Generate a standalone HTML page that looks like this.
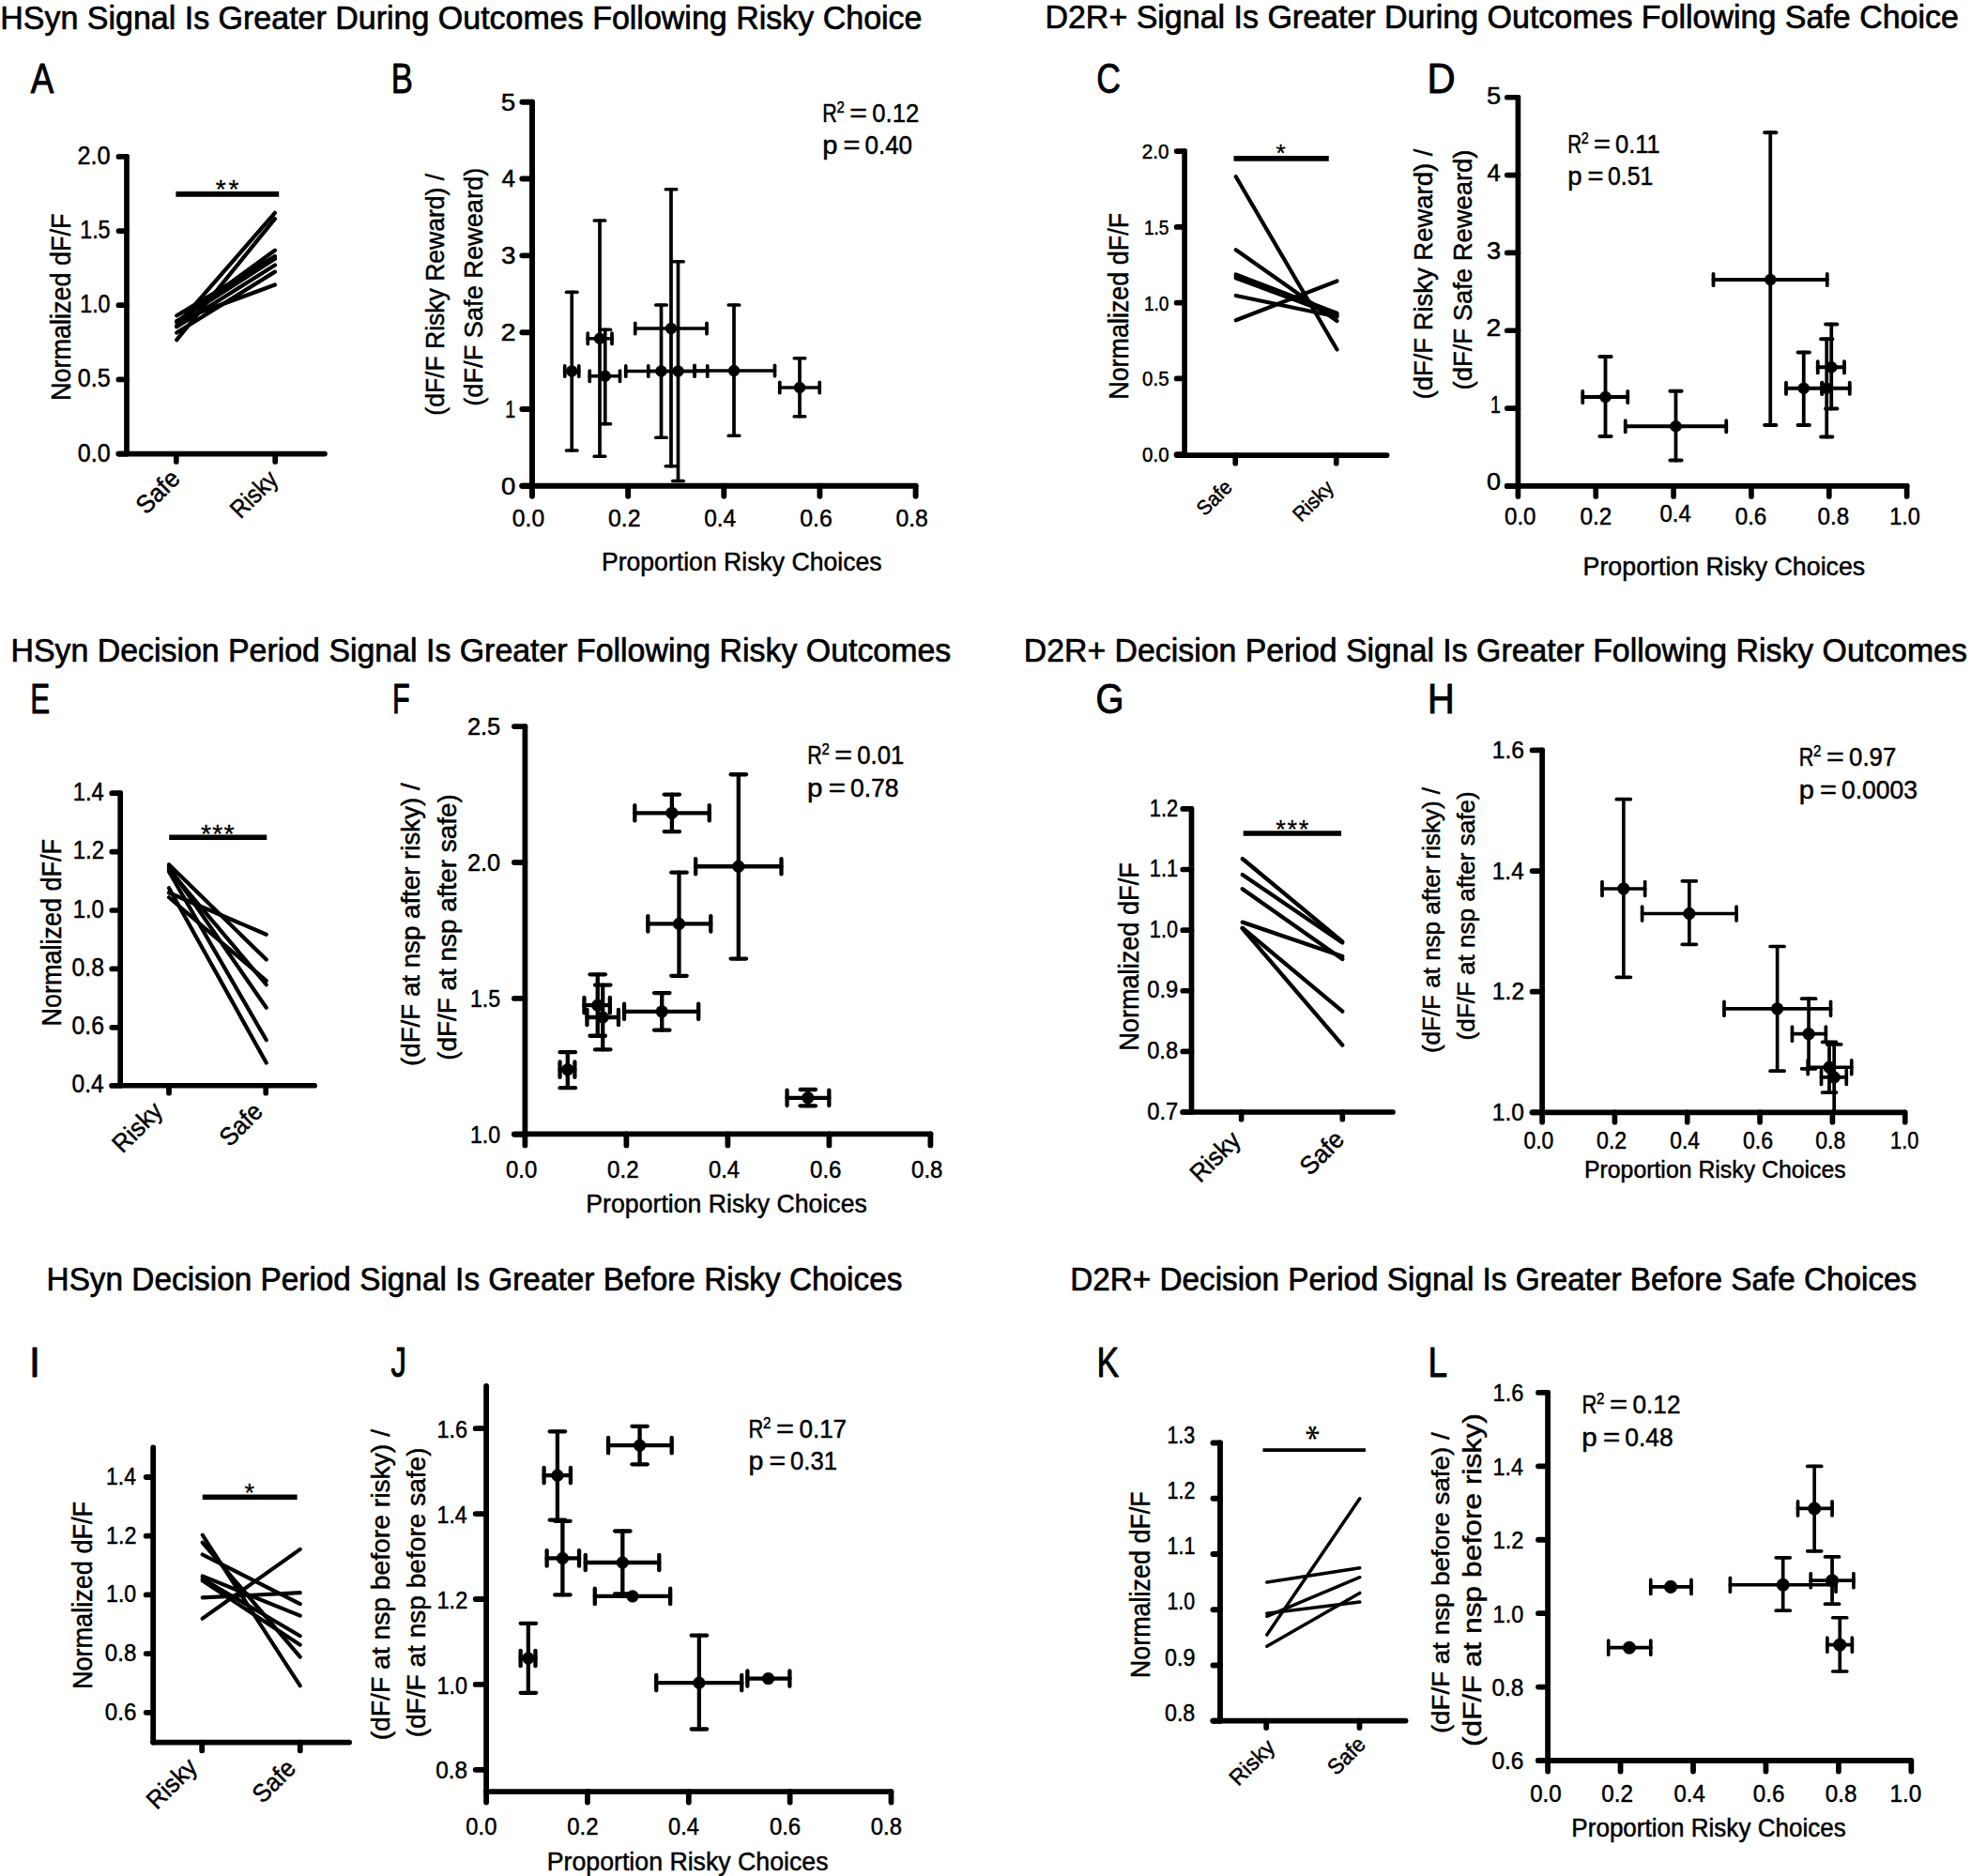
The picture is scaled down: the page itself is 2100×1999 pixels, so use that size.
<!DOCTYPE html>
<html lang="en"><head><meta charset="utf-8"><title>Figure</title>
<style>html,body{margin:0;padding:0;background:#fff}body{width:2100px;height:1999px;overflow:hidden}</style>
</head><body>
<svg width="2100" height="1999" viewBox="0 0 2100 1999" font-family='"Liberation Sans", sans-serif' fill="#000" stroke="#000" style="display:block">
<g fill="none">
<line x1="135" y1="166.9" x2="135" y2="483.6" stroke-width="5.7" stroke-linecap="round"/>
<line x1="126.45" y1="483.6" x2="345.95" y2="483.6" stroke-width="5.7" stroke-linecap="round"/>
<line x1="126.45" y1="166.9" x2="135" y2="166.9" stroke-width="5.7" stroke-linecap="round"/>
<line x1="126.45" y1="246.1" x2="135" y2="246.1" stroke-width="5.7" stroke-linecap="round"/>
<line x1="126.45" y1="325.2" x2="135" y2="325.2" stroke-width="5.7" stroke-linecap="round"/>
<line x1="126.45" y1="404.4" x2="135" y2="404.4" stroke-width="5.7" stroke-linecap="round"/>
<line x1="126.45" y1="483.6" x2="135" y2="483.6" stroke-width="5.7" stroke-linecap="round"/>
<line x1="187.8" y1="483.6" x2="187.8" y2="491.95" stroke-width="5.7" stroke-linecap="round"/>
<line x1="293.2" y1="483.6" x2="293.2" y2="491.95" stroke-width="5.7" stroke-linecap="round"/>
<line x1="187.4" y1="206.8" x2="297.2" y2="206.8" stroke-width="5.7" stroke-linecap="butt"/>
<line x1="188.3" y1="346.8" x2="292.9" y2="226.9" stroke-width="4.3" stroke-linecap="round"/>
<line x1="188.3" y1="362.2" x2="292.9" y2="233.1" stroke-width="4.3" stroke-linecap="round"/>
<line x1="188.3" y1="336.3" x2="292.9" y2="273.1" stroke-width="4.3" stroke-linecap="round"/>
<line x1="188.3" y1="343" x2="292.9" y2="266.7" stroke-width="4.3" stroke-linecap="round"/>
<line x1="188.3" y1="343" x2="292.9" y2="275.8" stroke-width="4.3" stroke-linecap="round"/>
<line x1="188.3" y1="348.3" x2="292.9" y2="282.5" stroke-width="4.3" stroke-linecap="round"/>
<line x1="188.3" y1="354.5" x2="292.9" y2="289.7" stroke-width="4.3" stroke-linecap="round"/>
<line x1="188.3" y1="342.1" x2="292.9" y2="303.5" stroke-width="4.3" stroke-linecap="round"/>
<line x1="567" y1="108.75" x2="567" y2="517.8" stroke-width="5.9" stroke-linecap="round"/>
<line x1="556.35" y1="517.8" x2="975.55" y2="517.8" stroke-width="5.9" stroke-linecap="round"/>
<line x1="556.35" y1="108.75" x2="567" y2="108.75" stroke-width="5.9" stroke-linecap="round"/>
<line x1="556.35" y1="190.56" x2="567" y2="190.56" stroke-width="5.9" stroke-linecap="round"/>
<line x1="556.35" y1="272.37" x2="567" y2="272.37" stroke-width="5.9" stroke-linecap="round"/>
<line x1="556.35" y1="354.18" x2="567" y2="354.18" stroke-width="5.9" stroke-linecap="round"/>
<line x1="556.35" y1="435.99" x2="567" y2="435.99" stroke-width="5.9" stroke-linecap="round"/>
<line x1="556.35" y1="517.8" x2="567" y2="517.8" stroke-width="5.9" stroke-linecap="round"/>
<line x1="567" y1="517.8" x2="567" y2="528.75" stroke-width="5.9" stroke-linecap="round"/>
<line x1="669.15" y1="517.8" x2="669.15" y2="528.75" stroke-width="5.9" stroke-linecap="round"/>
<line x1="771.3" y1="517.8" x2="771.3" y2="528.75" stroke-width="5.9" stroke-linecap="round"/>
<line x1="873.45" y1="517.8" x2="873.45" y2="528.75" stroke-width="5.9" stroke-linecap="round"/>
<line x1="975.6" y1="517.8" x2="975.6" y2="528.75" stroke-width="5.9" stroke-linecap="round"/>
<line x1="601.75" y1="395.5" x2="616.75" y2="395.5" stroke-width="3.7" stroke-linecap="round"/>
<line x1="601.75" y1="389.8" x2="601.75" y2="401.2" stroke-width="3.7" stroke-linecap="round"/>
<line x1="616.75" y1="389.8" x2="616.75" y2="401.2" stroke-width="3.7" stroke-linecap="round"/>
<line x1="609.25" y1="311.25" x2="609.25" y2="480" stroke-width="3.7" stroke-linecap="round"/>
<line x1="603.55" y1="311.25" x2="614.95" y2="311.25" stroke-width="3.7" stroke-linecap="round"/>
<line x1="603.55" y1="480" x2="614.95" y2="480" stroke-width="3.7" stroke-linecap="round"/>
<line x1="626.25" y1="360.75" x2="652" y2="360.75" stroke-width="3.7" stroke-linecap="round"/>
<line x1="626.25" y1="355.05" x2="626.25" y2="366.45" stroke-width="3.7" stroke-linecap="round"/>
<line x1="652" y1="355.05" x2="652" y2="366.45" stroke-width="3.7" stroke-linecap="round"/>
<line x1="639" y1="235" x2="639" y2="486.25" stroke-width="3.7" stroke-linecap="round"/>
<line x1="633.3" y1="235" x2="644.7" y2="235" stroke-width="3.7" stroke-linecap="round"/>
<line x1="633.3" y1="486.25" x2="644.7" y2="486.25" stroke-width="3.7" stroke-linecap="round"/>
<line x1="628.25" y1="400.75" x2="660.5" y2="400.75" stroke-width="3.7" stroke-linecap="round"/>
<line x1="628.25" y1="395.05" x2="628.25" y2="406.45" stroke-width="3.7" stroke-linecap="round"/>
<line x1="660.5" y1="395.05" x2="660.5" y2="406.45" stroke-width="3.7" stroke-linecap="round"/>
<line x1="644.75" y1="351.25" x2="644.75" y2="451.75" stroke-width="3.7" stroke-linecap="round"/>
<line x1="639.05" y1="351.25" x2="650.45" y2="351.25" stroke-width="3.7" stroke-linecap="round"/>
<line x1="639.05" y1="451.75" x2="650.45" y2="451.75" stroke-width="3.7" stroke-linecap="round"/>
<line x1="666.75" y1="395.5" x2="740" y2="395.5" stroke-width="3.7" stroke-linecap="round"/>
<line x1="666.75" y1="389.8" x2="666.75" y2="401.2" stroke-width="3.7" stroke-linecap="round"/>
<line x1="740" y1="389.8" x2="740" y2="401.2" stroke-width="3.7" stroke-linecap="round"/>
<line x1="704.5" y1="325" x2="704.5" y2="466.25" stroke-width="3.7" stroke-linecap="round"/>
<line x1="698.8" y1="325" x2="710.2" y2="325" stroke-width="3.7" stroke-linecap="round"/>
<line x1="698.8" y1="466.25" x2="710.2" y2="466.25" stroke-width="3.7" stroke-linecap="round"/>
<line x1="676.75" y1="350" x2="753" y2="350" stroke-width="3.7" stroke-linecap="round"/>
<line x1="676.75" y1="344.3" x2="676.75" y2="355.7" stroke-width="3.7" stroke-linecap="round"/>
<line x1="753" y1="344.3" x2="753" y2="355.7" stroke-width="3.7" stroke-linecap="round"/>
<line x1="715" y1="201.75" x2="715" y2="496.75" stroke-width="3.7" stroke-linecap="round"/>
<line x1="709.3" y1="201.75" x2="720.7" y2="201.75" stroke-width="3.7" stroke-linecap="round"/>
<line x1="709.3" y1="496.75" x2="720.7" y2="496.75" stroke-width="3.7" stroke-linecap="round"/>
<line x1="690.75" y1="395.5" x2="753.75" y2="395.5" stroke-width="3.7" stroke-linecap="round"/>
<line x1="690.75" y1="389.8" x2="690.75" y2="401.2" stroke-width="3.7" stroke-linecap="round"/>
<line x1="753.75" y1="389.8" x2="753.75" y2="401.2" stroke-width="3.7" stroke-linecap="round"/>
<line x1="722.5" y1="278.75" x2="722.5" y2="512.5" stroke-width="3.7" stroke-linecap="round"/>
<line x1="716.8" y1="278.75" x2="728.2" y2="278.75" stroke-width="3.7" stroke-linecap="round"/>
<line x1="716.8" y1="512.5" x2="728.2" y2="512.5" stroke-width="3.7" stroke-linecap="round"/>
<line x1="740" y1="395" x2="825.5" y2="395" stroke-width="3.7" stroke-linecap="round"/>
<line x1="740" y1="389.3" x2="740" y2="400.7" stroke-width="3.7" stroke-linecap="round"/>
<line x1="825.5" y1="389.3" x2="825.5" y2="400.7" stroke-width="3.7" stroke-linecap="round"/>
<line x1="782" y1="325" x2="782" y2="464.25" stroke-width="3.7" stroke-linecap="round"/>
<line x1="776.3" y1="325" x2="787.7" y2="325" stroke-width="3.7" stroke-linecap="round"/>
<line x1="776.3" y1="464.25" x2="787.7" y2="464.25" stroke-width="3.7" stroke-linecap="round"/>
<line x1="830.75" y1="413" x2="873.25" y2="413" stroke-width="3.7" stroke-linecap="round"/>
<line x1="830.75" y1="407.3" x2="830.75" y2="418.7" stroke-width="3.7" stroke-linecap="round"/>
<line x1="873.25" y1="407.3" x2="873.25" y2="418.7" stroke-width="3.7" stroke-linecap="round"/>
<line x1="852" y1="381.75" x2="852" y2="443.75" stroke-width="3.7" stroke-linecap="round"/>
<line x1="846.3" y1="381.75" x2="857.7" y2="381.75" stroke-width="3.7" stroke-linecap="round"/>
<line x1="846.3" y1="443.75" x2="857.7" y2="443.75" stroke-width="3.7" stroke-linecap="round"/>
<line x1="1262.1" y1="161.1" x2="1262.1" y2="485.1" stroke-width="5.7" stroke-linecap="round"/>
<line x1="1253.65" y1="485.1" x2="1477.65" y2="485.1" stroke-width="5.7" stroke-linecap="round"/>
<line x1="1253.65" y1="161.1" x2="1262.1" y2="161.1" stroke-width="5.7" stroke-linecap="round"/>
<line x1="1253.65" y1="241.88" x2="1262.1" y2="241.88" stroke-width="5.7" stroke-linecap="round"/>
<line x1="1253.65" y1="322.66" x2="1262.1" y2="322.66" stroke-width="5.7" stroke-linecap="round"/>
<line x1="1253.65" y1="403.44" x2="1262.1" y2="403.44" stroke-width="5.7" stroke-linecap="round"/>
<line x1="1253.65" y1="484.22" x2="1262.1" y2="484.22" stroke-width="5.7" stroke-linecap="round"/>
<line x1="1316.25" y1="485.1" x2="1316.25" y2="493.65" stroke-width="5.7" stroke-linecap="round"/>
<line x1="1423.75" y1="485.1" x2="1423.75" y2="493.65" stroke-width="5.7" stroke-linecap="round"/>
<line x1="1314.5" y1="168.8" x2="1415.75" y2="168.8" stroke-width="5.7" stroke-linecap="butt"/>
<line x1="1316.75" y1="188.25" x2="1424.5" y2="372.5" stroke-width="4.2" stroke-linecap="round"/>
<line x1="1316.75" y1="266.25" x2="1424.5" y2="342" stroke-width="4.2" stroke-linecap="round"/>
<line x1="1316.75" y1="292.5" x2="1424.5" y2="333.75" stroke-width="4.2" stroke-linecap="round"/>
<line x1="1316.75" y1="296.25" x2="1424.5" y2="336.25" stroke-width="4.2" stroke-linecap="round"/>
<line x1="1316.75" y1="294.5" x2="1424.5" y2="335" stroke-width="4.2" stroke-linecap="round"/>
<line x1="1316.75" y1="315" x2="1424.5" y2="337.5" stroke-width="4.2" stroke-linecap="round"/>
<line x1="1316.75" y1="341.25" x2="1424.5" y2="299.5" stroke-width="4.2" stroke-linecap="round"/>
<line x1="1617.4" y1="103.75" x2="1617.4" y2="517.9" stroke-width="5.7" stroke-linecap="round"/>
<line x1="1605.75" y1="517.9" x2="2031.65" y2="517.9" stroke-width="5.7" stroke-linecap="round"/>
<line x1="1605.75" y1="103.75" x2="1617.4" y2="103.75" stroke-width="5.7" stroke-linecap="round"/>
<line x1="1605.75" y1="186.58" x2="1617.4" y2="186.58" stroke-width="5.7" stroke-linecap="round"/>
<line x1="1605.75" y1="269.41" x2="1617.4" y2="269.41" stroke-width="5.7" stroke-linecap="round"/>
<line x1="1605.75" y1="352.24" x2="1617.4" y2="352.24" stroke-width="5.7" stroke-linecap="round"/>
<line x1="1605.75" y1="435.07" x2="1617.4" y2="435.07" stroke-width="5.7" stroke-linecap="round"/>
<line x1="1605.75" y1="517.9" x2="1617.4" y2="517.9" stroke-width="5.7" stroke-linecap="round"/>
<line x1="1617.4" y1="517.9" x2="1617.4" y2="528.95" stroke-width="5.7" stroke-linecap="round"/>
<line x1="1700.25" y1="517.9" x2="1700.25" y2="528.95" stroke-width="5.7" stroke-linecap="round"/>
<line x1="1783.1" y1="517.9" x2="1783.1" y2="528.95" stroke-width="5.7" stroke-linecap="round"/>
<line x1="1865.95" y1="517.9" x2="1865.95" y2="528.95" stroke-width="5.7" stroke-linecap="round"/>
<line x1="1948.8" y1="517.9" x2="1948.8" y2="528.95" stroke-width="5.7" stroke-linecap="round"/>
<line x1="2031.65" y1="517.9" x2="2031.65" y2="528.95" stroke-width="5.7" stroke-linecap="round"/>
<line x1="1686.25" y1="423" x2="1734.25" y2="423" stroke-width="3.8" stroke-linecap="round"/>
<line x1="1686.25" y1="416.8" x2="1686.25" y2="429.2" stroke-width="3.8" stroke-linecap="round"/>
<line x1="1734.25" y1="416.8" x2="1734.25" y2="429.2" stroke-width="3.8" stroke-linecap="round"/>
<line x1="1710.5" y1="380" x2="1710.5" y2="465" stroke-width="3.8" stroke-linecap="round"/>
<line x1="1704.3" y1="380" x2="1716.7" y2="380" stroke-width="3.8" stroke-linecap="round"/>
<line x1="1704.3" y1="465" x2="1716.7" y2="465" stroke-width="3.8" stroke-linecap="round"/>
<line x1="1731.75" y1="454.25" x2="1839.25" y2="454.25" stroke-width="3.8" stroke-linecap="round"/>
<line x1="1731.75" y1="448.05" x2="1731.75" y2="460.45" stroke-width="3.8" stroke-linecap="round"/>
<line x1="1839.25" y1="448.05" x2="1839.25" y2="460.45" stroke-width="3.8" stroke-linecap="round"/>
<line x1="1785.5" y1="416.75" x2="1785.5" y2="490.5" stroke-width="3.8" stroke-linecap="round"/>
<line x1="1779.3" y1="416.75" x2="1791.7" y2="416.75" stroke-width="3.8" stroke-linecap="round"/>
<line x1="1779.3" y1="490.5" x2="1791.7" y2="490.5" stroke-width="3.8" stroke-linecap="round"/>
<line x1="1825.5" y1="298" x2="1946.75" y2="298" stroke-width="3.8" stroke-linecap="round"/>
<line x1="1825.5" y1="291.8" x2="1825.5" y2="304.2" stroke-width="3.8" stroke-linecap="round"/>
<line x1="1946.75" y1="291.8" x2="1946.75" y2="304.2" stroke-width="3.8" stroke-linecap="round"/>
<line x1="1886.25" y1="141.25" x2="1886.25" y2="453" stroke-width="3.8" stroke-linecap="round"/>
<line x1="1880.05" y1="141.25" x2="1892.45" y2="141.25" stroke-width="3.8" stroke-linecap="round"/>
<line x1="1880.05" y1="453" x2="1892.45" y2="453" stroke-width="3.8" stroke-linecap="round"/>
<line x1="1903" y1="413.75" x2="1941.25" y2="413.75" stroke-width="3.8" stroke-linecap="round"/>
<line x1="1903" y1="407.55" x2="1903" y2="419.95" stroke-width="3.8" stroke-linecap="round"/>
<line x1="1941.25" y1="407.55" x2="1941.25" y2="419.95" stroke-width="3.8" stroke-linecap="round"/>
<line x1="1921.75" y1="375.5" x2="1921.75" y2="453" stroke-width="3.8" stroke-linecap="round"/>
<line x1="1915.55" y1="375.5" x2="1927.95" y2="375.5" stroke-width="3.8" stroke-linecap="round"/>
<line x1="1915.55" y1="453" x2="1927.95" y2="453" stroke-width="3.8" stroke-linecap="round"/>
<line x1="1941.25" y1="413.75" x2="1970.75" y2="413.75" stroke-width="3.8" stroke-linecap="round"/>
<line x1="1941.25" y1="407.55" x2="1941.25" y2="419.95" stroke-width="3.8" stroke-linecap="round"/>
<line x1="1970.75" y1="407.55" x2="1970.75" y2="419.95" stroke-width="3.8" stroke-linecap="round"/>
<line x1="1946.25" y1="361.25" x2="1946.25" y2="465.5" stroke-width="3.8" stroke-linecap="round"/>
<line x1="1940.05" y1="361.25" x2="1952.45" y2="361.25" stroke-width="3.8" stroke-linecap="round"/>
<line x1="1940.05" y1="465.5" x2="1952.45" y2="465.5" stroke-width="3.8" stroke-linecap="round"/>
<line x1="1936.75" y1="391.25" x2="1965" y2="391.25" stroke-width="3.8" stroke-linecap="round"/>
<line x1="1936.75" y1="385.05" x2="1936.75" y2="397.45" stroke-width="3.8" stroke-linecap="round"/>
<line x1="1965" y1="385.05" x2="1965" y2="397.45" stroke-width="3.8" stroke-linecap="round"/>
<line x1="1951.25" y1="345.5" x2="1951.25" y2="435.5" stroke-width="3.8" stroke-linecap="round"/>
<line x1="1945.05" y1="345.5" x2="1957.45" y2="345.5" stroke-width="3.8" stroke-linecap="round"/>
<line x1="1945.05" y1="435.5" x2="1957.45" y2="435.5" stroke-width="3.8" stroke-linecap="round"/>
<line x1="128.2" y1="845.2" x2="128.2" y2="1156.75" stroke-width="5.7" stroke-linecap="round"/>
<line x1="119.25" y1="1156.75" x2="335.15" y2="1156.75" stroke-width="5.7" stroke-linecap="round"/>
<line x1="119.25" y1="845.2" x2="128.2" y2="845.2" stroke-width="5.7" stroke-linecap="round"/>
<line x1="119.25" y1="907.6" x2="128.2" y2="907.6" stroke-width="5.7" stroke-linecap="round"/>
<line x1="119.25" y1="970" x2="128.2" y2="970" stroke-width="5.7" stroke-linecap="round"/>
<line x1="119.25" y1="1032.4" x2="128.2" y2="1032.4" stroke-width="5.7" stroke-linecap="round"/>
<line x1="119.25" y1="1094.8" x2="128.2" y2="1094.8" stroke-width="5.7" stroke-linecap="round"/>
<line x1="119.25" y1="1156.75" x2="128.2" y2="1156.75" stroke-width="5.7" stroke-linecap="round"/>
<line x1="180" y1="1156.75" x2="180" y2="1164.65" stroke-width="5.7" stroke-linecap="round"/>
<line x1="283.25" y1="1156.75" x2="283.25" y2="1164.65" stroke-width="5.7" stroke-linecap="round"/>
<line x1="180.2" y1="892.2" x2="284.25" y2="892.2" stroke-width="5.6" stroke-linecap="butt"/>
<line x1="180" y1="921.25" x2="283.75" y2="1022.5" stroke-width="4.2" stroke-linecap="round"/>
<line x1="180" y1="951.25" x2="283.75" y2="995.75" stroke-width="4.2" stroke-linecap="round"/>
<line x1="180" y1="956.25" x2="283.75" y2="1045" stroke-width="4.2" stroke-linecap="round"/>
<line x1="180" y1="926.25" x2="283.75" y2="1049.25" stroke-width="4.2" stroke-linecap="round"/>
<line x1="180" y1="923.75" x2="283.75" y2="1073.75" stroke-width="4.2" stroke-linecap="round"/>
<line x1="180" y1="928.75" x2="283.75" y2="1108.25" stroke-width="4.2" stroke-linecap="round"/>
<line x1="180" y1="946.25" x2="283.75" y2="1132.5" stroke-width="4.2" stroke-linecap="round"/>
<line x1="559.4" y1="774.1" x2="559.4" y2="1208.3" stroke-width="5.8" stroke-linecap="round"/>
<line x1="547.9" y1="1208.3" x2="991.4" y2="1208.3" stroke-width="5.8" stroke-linecap="round"/>
<line x1="547.9" y1="774.1" x2="559.4" y2="774.1" stroke-width="5.8" stroke-linecap="round"/>
<line x1="547.9" y1="919" x2="559.4" y2="919" stroke-width="5.8" stroke-linecap="round"/>
<line x1="547.9" y1="1063.9" x2="559.4" y2="1063.9" stroke-width="5.8" stroke-linecap="round"/>
<line x1="547.9" y1="1208.8" x2="559.4" y2="1208.8" stroke-width="5.8" stroke-linecap="round"/>
<line x1="559.4" y1="1208.3" x2="559.4" y2="1220.4" stroke-width="5.8" stroke-linecap="round"/>
<line x1="667.4" y1="1208.3" x2="667.4" y2="1220.4" stroke-width="5.8" stroke-linecap="round"/>
<line x1="775.4" y1="1208.3" x2="775.4" y2="1220.4" stroke-width="5.8" stroke-linecap="round"/>
<line x1="883.4" y1="1208.3" x2="883.4" y2="1220.4" stroke-width="5.8" stroke-linecap="round"/>
<line x1="991.4" y1="1208.3" x2="991.4" y2="1220.4" stroke-width="5.8" stroke-linecap="round"/>
<line x1="596.56" y1="1139.7" x2="612.39" y2="1139.7" stroke-width="4.3" stroke-linecap="round"/>
<line x1="596.56" y1="1131.5" x2="596.56" y2="1147.9" stroke-width="4.3" stroke-linecap="round"/>
<line x1="612.39" y1="1131.5" x2="612.39" y2="1147.9" stroke-width="4.3" stroke-linecap="round"/>
<line x1="604.78" y1="1121.13" x2="604.78" y2="1159.18" stroke-width="4.3" stroke-linecap="round"/>
<line x1="596.58" y1="1121.13" x2="612.98" y2="1121.13" stroke-width="4.3" stroke-linecap="round"/>
<line x1="596.58" y1="1159.18" x2="612.98" y2="1159.18" stroke-width="4.3" stroke-linecap="round"/>
<line x1="622.44" y1="1071.2" x2="649.83" y2="1071.2" stroke-width="4.3" stroke-linecap="round"/>
<line x1="622.44" y1="1063" x2="622.44" y2="1079.4" stroke-width="4.3" stroke-linecap="round"/>
<line x1="649.83" y1="1063" x2="649.83" y2="1079.4" stroke-width="4.3" stroke-linecap="round"/>
<line x1="636.74" y1="1038.33" x2="636.74" y2="1103.77" stroke-width="4.3" stroke-linecap="round"/>
<line x1="628.54" y1="1038.33" x2="644.94" y2="1038.33" stroke-width="4.3" stroke-linecap="round"/>
<line x1="628.54" y1="1103.77" x2="644.94" y2="1103.77" stroke-width="4.3" stroke-linecap="round"/>
<line x1="625.48" y1="1083.99" x2="658.96" y2="1083.99" stroke-width="4.3" stroke-linecap="round"/>
<line x1="625.48" y1="1075.79" x2="625.48" y2="1092.19" stroke-width="4.3" stroke-linecap="round"/>
<line x1="658.96" y1="1075.79" x2="658.96" y2="1092.19" stroke-width="4.3" stroke-linecap="round"/>
<line x1="642.22" y1="1049.59" x2="642.22" y2="1118.39" stroke-width="4.3" stroke-linecap="round"/>
<line x1="634.02" y1="1049.59" x2="650.42" y2="1049.59" stroke-width="4.3" stroke-linecap="round"/>
<line x1="634.02" y1="1118.39" x2="650.42" y2="1118.39" stroke-width="4.3" stroke-linecap="round"/>
<line x1="665.05" y1="1077.9" x2="744.2" y2="1077.9" stroke-width="4.3" stroke-linecap="round"/>
<line x1="665.05" y1="1069.7" x2="665.05" y2="1086.1" stroke-width="4.3" stroke-linecap="round"/>
<line x1="744.2" y1="1069.7" x2="744.2" y2="1086.1" stroke-width="4.3" stroke-linecap="round"/>
<line x1="705.24" y1="1058.11" x2="705.24" y2="1097.69" stroke-width="4.3" stroke-linecap="round"/>
<line x1="697.04" y1="1058.11" x2="713.44" y2="1058.11" stroke-width="4.3" stroke-linecap="round"/>
<line x1="697.04" y1="1097.69" x2="713.44" y2="1097.69" stroke-width="4.3" stroke-linecap="round"/>
<line x1="676.32" y1="866.33" x2="755.77" y2="866.33" stroke-width="4.3" stroke-linecap="round"/>
<line x1="676.32" y1="858.13" x2="676.32" y2="874.53" stroke-width="4.3" stroke-linecap="round"/>
<line x1="755.77" y1="858.13" x2="755.77" y2="874.53" stroke-width="4.3" stroke-linecap="round"/>
<line x1="715.89" y1="846.54" x2="715.89" y2="886.12" stroke-width="4.3" stroke-linecap="round"/>
<line x1="707.69" y1="846.54" x2="724.09" y2="846.54" stroke-width="4.3" stroke-linecap="round"/>
<line x1="707.69" y1="886.12" x2="724.09" y2="886.12" stroke-width="4.3" stroke-linecap="round"/>
<line x1="690.32" y1="984.44" x2="757.29" y2="984.44" stroke-width="4.3" stroke-linecap="round"/>
<line x1="690.32" y1="976.24" x2="690.32" y2="992.64" stroke-width="4.3" stroke-linecap="round"/>
<line x1="757.29" y1="976.24" x2="757.29" y2="992.64" stroke-width="4.3" stroke-linecap="round"/>
<line x1="723.5" y1="929.65" x2="723.5" y2="1039.85" stroke-width="4.3" stroke-linecap="round"/>
<line x1="715.3" y1="929.65" x2="731.7" y2="929.65" stroke-width="4.3" stroke-linecap="round"/>
<line x1="715.3" y1="1039.85" x2="731.7" y2="1039.85" stroke-width="4.3" stroke-linecap="round"/>
<line x1="741.16" y1="923.26" x2="832.48" y2="923.26" stroke-width="4.3" stroke-linecap="round"/>
<line x1="741.16" y1="915.06" x2="741.16" y2="931.46" stroke-width="4.3" stroke-linecap="round"/>
<line x1="832.48" y1="915.06" x2="832.48" y2="931.46" stroke-width="4.3" stroke-linecap="round"/>
<line x1="786.82" y1="825.24" x2="786.82" y2="1021.58" stroke-width="4.3" stroke-linecap="round"/>
<line x1="778.62" y1="825.24" x2="795.02" y2="825.24" stroke-width="4.3" stroke-linecap="round"/>
<line x1="778.62" y1="1021.58" x2="795.02" y2="1021.58" stroke-width="4.3" stroke-linecap="round"/>
<line x1="838.57" y1="1169.83" x2="883.32" y2="1169.83" stroke-width="4.3" stroke-linecap="round"/>
<line x1="838.57" y1="1161.63" x2="838.57" y2="1178.03" stroke-width="4.3" stroke-linecap="round"/>
<line x1="883.32" y1="1161.63" x2="883.32" y2="1178.03" stroke-width="4.3" stroke-linecap="round"/>
<line x1="860.79" y1="1161" x2="860.79" y2="1178.36" stroke-width="4.3" stroke-linecap="round"/>
<line x1="852.59" y1="1161" x2="868.99" y2="1161" stroke-width="4.3" stroke-linecap="round"/>
<line x1="852.59" y1="1178.36" x2="868.99" y2="1178.36" stroke-width="4.3" stroke-linecap="round"/>
<line x1="1269.5" y1="861.9" x2="1269.5" y2="1185" stroke-width="5.7" stroke-linecap="round"/>
<line x1="1260.25" y1="1185" x2="1483.95" y2="1185" stroke-width="5.7" stroke-linecap="round"/>
<line x1="1260.25" y1="861.9" x2="1269.5" y2="861.9" stroke-width="5.7" stroke-linecap="round"/>
<line x1="1260.25" y1="926.52" x2="1269.5" y2="926.52" stroke-width="5.7" stroke-linecap="round"/>
<line x1="1260.25" y1="991.14" x2="1269.5" y2="991.14" stroke-width="5.7" stroke-linecap="round"/>
<line x1="1260.25" y1="1055.76" x2="1269.5" y2="1055.76" stroke-width="5.7" stroke-linecap="round"/>
<line x1="1260.25" y1="1120.38" x2="1269.5" y2="1120.38" stroke-width="5.7" stroke-linecap="round"/>
<line x1="1260.25" y1="1185" x2="1269.5" y2="1185" stroke-width="5.7" stroke-linecap="round"/>
<line x1="1322.6" y1="1185" x2="1322.6" y2="1192.65" stroke-width="5.7" stroke-linecap="round"/>
<line x1="1430.3" y1="1185" x2="1430.3" y2="1192.65" stroke-width="5.7" stroke-linecap="round"/>
<line x1="1324.7" y1="888" x2="1429.1" y2="888" stroke-width="5.7" stroke-linecap="butt"/>
<line x1="1323.7" y1="915" x2="1430.3" y2="1003.3" stroke-width="4.3" stroke-linecap="round"/>
<line x1="1323.7" y1="932" x2="1430.3" y2="1004.5" stroke-width="4.3" stroke-linecap="round"/>
<line x1="1323.7" y1="947.2" x2="1430.3" y2="1022.1" stroke-width="4.3" stroke-linecap="round"/>
<line x1="1323.7" y1="982.6" x2="1430.3" y2="1019" stroke-width="4.3" stroke-linecap="round"/>
<line x1="1323.7" y1="988.7" x2="1430.3" y2="1077.6" stroke-width="4.3" stroke-linecap="round"/>
<line x1="1323.7" y1="989.3" x2="1430.3" y2="1113.7" stroke-width="4.3" stroke-linecap="round"/>
<line x1="1643.1" y1="799.4" x2="1643.1" y2="1185.3" stroke-width="5.7" stroke-linecap="round"/>
<line x1="1632.55" y1="1185.3" x2="2029.15" y2="1185.3" stroke-width="5.7" stroke-linecap="round"/>
<line x1="1632.55" y1="799.4" x2="1643.1" y2="799.4" stroke-width="5.7" stroke-linecap="round"/>
<line x1="1632.55" y1="928.03" x2="1643.1" y2="928.03" stroke-width="5.7" stroke-linecap="round"/>
<line x1="1632.55" y1="1056.66" x2="1643.1" y2="1056.66" stroke-width="5.7" stroke-linecap="round"/>
<line x1="1632.55" y1="1185.29" x2="1643.1" y2="1185.29" stroke-width="5.7" stroke-linecap="round"/>
<line x1="1643.1" y1="1185.3" x2="1643.1" y2="1195.65" stroke-width="5.7" stroke-linecap="round"/>
<line x1="1720.43" y1="1185.3" x2="1720.43" y2="1195.65" stroke-width="5.7" stroke-linecap="round"/>
<line x1="1797.76" y1="1185.3" x2="1797.76" y2="1195.65" stroke-width="5.7" stroke-linecap="round"/>
<line x1="1875.09" y1="1185.3" x2="1875.09" y2="1195.65" stroke-width="5.7" stroke-linecap="round"/>
<line x1="1952.42" y1="1185.3" x2="1952.42" y2="1195.65" stroke-width="5.7" stroke-linecap="round"/>
<line x1="2029.75" y1="1185.3" x2="2029.75" y2="1195.65" stroke-width="5.7" stroke-linecap="round"/>
<line x1="1707" y1="947" x2="1752.66" y2="947" stroke-width="3.7" stroke-linecap="round"/>
<line x1="1707" y1="939.5" x2="1707" y2="954.5" stroke-width="3.7" stroke-linecap="round"/>
<line x1="1752.66" y1="939.5" x2="1752.66" y2="954.5" stroke-width="3.7" stroke-linecap="round"/>
<line x1="1729.83" y1="851.72" x2="1729.83" y2="1041.37" stroke-width="3.7" stroke-linecap="round"/>
<line x1="1722.33" y1="851.72" x2="1737.33" y2="851.72" stroke-width="3.7" stroke-linecap="round"/>
<line x1="1722.33" y1="1041.37" x2="1737.33" y2="1041.37" stroke-width="3.7" stroke-linecap="round"/>
<line x1="1749.62" y1="973.49" x2="1850.08" y2="973.49" stroke-width="3.7" stroke-linecap="round"/>
<line x1="1749.62" y1="965.99" x2="1749.62" y2="980.99" stroke-width="3.7" stroke-linecap="round"/>
<line x1="1850.08" y1="965.99" x2="1850.08" y2="980.99" stroke-width="3.7" stroke-linecap="round"/>
<line x1="1799.85" y1="938.78" x2="1799.85" y2="1006.36" stroke-width="3.7" stroke-linecap="round"/>
<line x1="1792.35" y1="938.78" x2="1807.35" y2="938.78" stroke-width="3.7" stroke-linecap="round"/>
<line x1="1792.35" y1="1006.36" x2="1807.35" y2="1006.36" stroke-width="3.7" stroke-linecap="round"/>
<line x1="1836.99" y1="1074.86" x2="1950.53" y2="1074.86" stroke-width="3.7" stroke-linecap="round"/>
<line x1="1836.99" y1="1067.36" x2="1836.99" y2="1082.36" stroke-width="3.7" stroke-linecap="round"/>
<line x1="1950.53" y1="1067.36" x2="1950.53" y2="1082.36" stroke-width="3.7" stroke-linecap="round"/>
<line x1="1893.61" y1="1008.49" x2="1893.61" y2="1141.22" stroke-width="3.7" stroke-linecap="round"/>
<line x1="1886.11" y1="1008.49" x2="1901.11" y2="1008.49" stroke-width="3.7" stroke-linecap="round"/>
<line x1="1886.11" y1="1141.22" x2="1901.11" y2="1141.22" stroke-width="3.7" stroke-linecap="round"/>
<line x1="1909.44" y1="1101.64" x2="1945.36" y2="1101.64" stroke-width="3.7" stroke-linecap="round"/>
<line x1="1909.44" y1="1094.14" x2="1909.44" y2="1109.14" stroke-width="3.7" stroke-linecap="round"/>
<line x1="1945.36" y1="1094.14" x2="1945.36" y2="1109.14" stroke-width="3.7" stroke-linecap="round"/>
<line x1="1927.09" y1="1064.2" x2="1927.09" y2="1138.78" stroke-width="3.7" stroke-linecap="round"/>
<line x1="1919.59" y1="1064.2" x2="1934.59" y2="1064.2" stroke-width="3.7" stroke-linecap="round"/>
<line x1="1919.59" y1="1138.78" x2="1934.59" y2="1138.78" stroke-width="3.7" stroke-linecap="round"/>
<line x1="1926.18" y1="1137.26" x2="1972.75" y2="1137.26" stroke-width="3.7" stroke-linecap="round"/>
<line x1="1926.18" y1="1129.76" x2="1926.18" y2="1144.76" stroke-width="3.7" stroke-linecap="round"/>
<line x1="1972.75" y1="1129.76" x2="1972.75" y2="1144.76" stroke-width="3.7" stroke-linecap="round"/>
<line x1="1949.01" y1="1110.47" x2="1949.01" y2="1164.05" stroke-width="3.7" stroke-linecap="round"/>
<line x1="1941.51" y1="1110.47" x2="1956.51" y2="1110.47" stroke-width="3.7" stroke-linecap="round"/>
<line x1="1941.51" y1="1164.05" x2="1956.51" y2="1164.05" stroke-width="3.7" stroke-linecap="round"/>
<line x1="1940.49" y1="1147.91" x2="1967.28" y2="1147.91" stroke-width="3.7" stroke-linecap="round"/>
<line x1="1940.49" y1="1140.41" x2="1940.49" y2="1155.41" stroke-width="3.7" stroke-linecap="round"/>
<line x1="1967.28" y1="1140.41" x2="1967.28" y2="1155.41" stroke-width="3.7" stroke-linecap="round"/>
<line x1="1954.19" y1="1112.91" x2="1954.19" y2="1185.05" stroke-width="3.7" stroke-linecap="round"/>
<line x1="1946.69" y1="1112.91" x2="1961.69" y2="1112.91" stroke-width="3.7" stroke-linecap="round"/>
<line x1="1946.69" y1="1185.05" x2="1961.69" y2="1185.05" stroke-width="3.7" stroke-linecap="round"/>
<line x1="163.2" y1="1542.5" x2="163.2" y2="1856.6" stroke-width="5.8" stroke-linecap="round"/>
<line x1="163.2" y1="1856.6" x2="372.1" y2="1856.6" stroke-width="5.8" stroke-linecap="round"/>
<line x1="155.7" y1="1574" x2="163.2" y2="1574" stroke-width="5.8" stroke-linecap="round"/>
<line x1="155.7" y1="1636.7" x2="163.2" y2="1636.7" stroke-width="5.8" stroke-linecap="round"/>
<line x1="155.7" y1="1699.4" x2="163.2" y2="1699.4" stroke-width="5.8" stroke-linecap="round"/>
<line x1="155.7" y1="1762.1" x2="163.2" y2="1762.1" stroke-width="5.8" stroke-linecap="round"/>
<line x1="155.7" y1="1824.8" x2="163.2" y2="1824.8" stroke-width="5.8" stroke-linecap="round"/>
<line x1="215.2" y1="1856.6" x2="215.2" y2="1865.4" stroke-width="5.8" stroke-linecap="round"/>
<line x1="319.8" y1="1856.6" x2="319.8" y2="1865.4" stroke-width="5.8" stroke-linecap="round"/>
<line x1="215.7" y1="1595.2" x2="316.6" y2="1595.2" stroke-width="5.4" stroke-linecap="butt"/>
<line x1="215.7" y1="1635.7" x2="319.8" y2="1796.4" stroke-width="4.1" stroke-linecap="round"/>
<line x1="215.7" y1="1643.6" x2="319.8" y2="1765.6" stroke-width="4.1" stroke-linecap="round"/>
<line x1="215.7" y1="1656.5" x2="319.8" y2="1709.1" stroke-width="4.1" stroke-linecap="round"/>
<line x1="215.7" y1="1679.4" x2="319.8" y2="1721.7" stroke-width="4.1" stroke-linecap="round"/>
<line x1="215.7" y1="1682.2" x2="319.8" y2="1743.2" stroke-width="4.1" stroke-linecap="round"/>
<line x1="215.7" y1="1684.4" x2="319.8" y2="1752.7" stroke-width="4.1" stroke-linecap="round"/>
<line x1="215.7" y1="1702.4" x2="319.8" y2="1697.1" stroke-width="4.1" stroke-linecap="round"/>
<line x1="215.7" y1="1724.7" x2="319.8" y2="1650.9" stroke-width="4.1" stroke-linecap="round"/>
<line x1="518.1" y1="1477" x2="518.1" y2="1909.2" stroke-width="5.8" stroke-linecap="round"/>
<line x1="518.1" y1="1909.2" x2="949.3" y2="1909.2" stroke-width="5.8" stroke-linecap="round"/>
<line x1="506.7" y1="1522.2" x2="518.1" y2="1522.2" stroke-width="5.8" stroke-linecap="round"/>
<line x1="506.7" y1="1613.1" x2="518.1" y2="1613.1" stroke-width="5.8" stroke-linecap="round"/>
<line x1="506.7" y1="1704" x2="518.1" y2="1704" stroke-width="5.8" stroke-linecap="round"/>
<line x1="506.7" y1="1794.9" x2="518.1" y2="1794.9" stroke-width="5.8" stroke-linecap="round"/>
<line x1="506.7" y1="1885.8" x2="518.1" y2="1885.8" stroke-width="5.8" stroke-linecap="round"/>
<line x1="518.1" y1="1909.2" x2="518.1" y2="1920.6" stroke-width="5.8" stroke-linecap="round"/>
<line x1="625.95" y1="1909.2" x2="625.95" y2="1920.6" stroke-width="5.8" stroke-linecap="round"/>
<line x1="733.8" y1="1909.2" x2="733.8" y2="1920.6" stroke-width="5.8" stroke-linecap="round"/>
<line x1="841.65" y1="1909.2" x2="841.65" y2="1920.6" stroke-width="5.8" stroke-linecap="round"/>
<line x1="949.5" y1="1909.2" x2="949.5" y2="1920.6" stroke-width="5.8" stroke-linecap="round"/>
<line x1="554.64" y1="1766.99" x2="570.47" y2="1766.99" stroke-width="4.3" stroke-linecap="round"/>
<line x1="554.64" y1="1758.79" x2="554.64" y2="1775.19" stroke-width="4.3" stroke-linecap="round"/>
<line x1="570.47" y1="1758.79" x2="570.47" y2="1775.19" stroke-width="4.3" stroke-linecap="round"/>
<line x1="562.86" y1="1729.85" x2="562.86" y2="1803.82" stroke-width="4.3" stroke-linecap="round"/>
<line x1="554.66" y1="1729.85" x2="571.06" y2="1729.85" stroke-width="4.3" stroke-linecap="round"/>
<line x1="554.66" y1="1803.82" x2="571.06" y2="1803.82" stroke-width="4.3" stroke-linecap="round"/>
<line x1="579.6" y1="1572.16" x2="607.91" y2="1572.16" stroke-width="4.3" stroke-linecap="round"/>
<line x1="579.6" y1="1563.96" x2="579.6" y2="1580.36" stroke-width="4.3" stroke-linecap="round"/>
<line x1="607.91" y1="1563.96" x2="607.91" y2="1580.36" stroke-width="4.3" stroke-linecap="round"/>
<line x1="593.91" y1="1525.28" x2="593.91" y2="1619.65" stroke-width="4.3" stroke-linecap="round"/>
<line x1="585.71" y1="1525.28" x2="602.11" y2="1525.28" stroke-width="4.3" stroke-linecap="round"/>
<line x1="585.71" y1="1619.65" x2="602.11" y2="1619.65" stroke-width="4.3" stroke-linecap="round"/>
<line x1="582.65" y1="1660.44" x2="617.05" y2="1660.44" stroke-width="4.3" stroke-linecap="round"/>
<line x1="582.65" y1="1652.24" x2="582.65" y2="1668.64" stroke-width="4.3" stroke-linecap="round"/>
<line x1="617.05" y1="1652.24" x2="617.05" y2="1668.64" stroke-width="4.3" stroke-linecap="round"/>
<line x1="599.39" y1="1620.87" x2="599.39" y2="1699.41" stroke-width="4.3" stroke-linecap="round"/>
<line x1="591.19" y1="1620.87" x2="607.59" y2="1620.87" stroke-width="4.3" stroke-linecap="round"/>
<line x1="591.19" y1="1699.41" x2="607.59" y2="1699.41" stroke-width="4.3" stroke-linecap="round"/>
<line x1="623.74" y1="1665.01" x2="702.28" y2="1665.01" stroke-width="4.3" stroke-linecap="round"/>
<line x1="623.74" y1="1656.81" x2="623.74" y2="1673.21" stroke-width="4.3" stroke-linecap="round"/>
<line x1="702.28" y1="1656.81" x2="702.28" y2="1673.21" stroke-width="4.3" stroke-linecap="round"/>
<line x1="663.32" y1="1631.52" x2="663.32" y2="1698.49" stroke-width="4.3" stroke-linecap="round"/>
<line x1="655.12" y1="1631.52" x2="671.52" y2="1631.52" stroke-width="4.3" stroke-linecap="round"/>
<line x1="655.12" y1="1698.49" x2="671.52" y2="1698.49" stroke-width="4.3" stroke-linecap="round"/>
<line x1="633.79" y1="1700.93" x2="714.16" y2="1700.93" stroke-width="4.3" stroke-linecap="round"/>
<line x1="633.79" y1="1692.73" x2="633.79" y2="1709.13" stroke-width="4.3" stroke-linecap="round"/>
<line x1="714.16" y1="1692.73" x2="714.16" y2="1709.13" stroke-width="4.3" stroke-linecap="round"/>
<line x1="648.1" y1="1540.2" x2="715.68" y2="1540.2" stroke-width="4.3" stroke-linecap="round"/>
<line x1="648.1" y1="1532" x2="648.1" y2="1548.4" stroke-width="4.3" stroke-linecap="round"/>
<line x1="715.68" y1="1532" x2="715.68" y2="1548.4" stroke-width="4.3" stroke-linecap="round"/>
<line x1="681.58" y1="1519.8" x2="681.58" y2="1560.29" stroke-width="4.3" stroke-linecap="round"/>
<line x1="673.38" y1="1519.8" x2="689.78" y2="1519.8" stroke-width="4.3" stroke-linecap="round"/>
<line x1="673.38" y1="1560.29" x2="689.78" y2="1560.29" stroke-width="4.3" stroke-linecap="round"/>
<line x1="699.24" y1="1793.17" x2="790.26" y2="1793.17" stroke-width="4.3" stroke-linecap="round"/>
<line x1="699.24" y1="1784.97" x2="699.24" y2="1801.37" stroke-width="4.3" stroke-linecap="round"/>
<line x1="790.26" y1="1784.97" x2="790.26" y2="1801.37" stroke-width="4.3" stroke-linecap="round"/>
<line x1="744.9" y1="1742.63" x2="744.9" y2="1842.48" stroke-width="4.3" stroke-linecap="round"/>
<line x1="736.7" y1="1742.63" x2="753.1" y2="1742.63" stroke-width="4.3" stroke-linecap="round"/>
<line x1="736.7" y1="1842.48" x2="753.1" y2="1842.48" stroke-width="4.3" stroke-linecap="round"/>
<line x1="796.35" y1="1788.6" x2="841.4" y2="1788.6" stroke-width="4.3" stroke-linecap="round"/>
<line x1="796.35" y1="1780.4" x2="796.35" y2="1796.8" stroke-width="4.3" stroke-linecap="round"/>
<line x1="841.4" y1="1780.4" x2="841.4" y2="1796.8" stroke-width="4.3" stroke-linecap="round"/>
<line x1="1300" y1="1537.5" x2="1300" y2="1833.6" stroke-width="5.8" stroke-linecap="round"/>
<line x1="1292.4" y1="1833.6" x2="1497.6" y2="1833.6" stroke-width="5.8" stroke-linecap="round"/>
<line x1="1292.4" y1="1537.5" x2="1300" y2="1537.5" stroke-width="5.8" stroke-linecap="round"/>
<line x1="1292.4" y1="1596.75" x2="1300" y2="1596.75" stroke-width="5.8" stroke-linecap="round"/>
<line x1="1292.4" y1="1656" x2="1300" y2="1656" stroke-width="5.8" stroke-linecap="round"/>
<line x1="1292.4" y1="1715.25" x2="1300" y2="1715.25" stroke-width="5.8" stroke-linecap="round"/>
<line x1="1292.4" y1="1774.5" x2="1300" y2="1774.5" stroke-width="5.8" stroke-linecap="round"/>
<line x1="1292.4" y1="1833.75" x2="1300" y2="1833.75" stroke-width="5.8" stroke-linecap="round"/>
<line x1="1349.2" y1="1833.6" x2="1349.2" y2="1841.1" stroke-width="5.8" stroke-linecap="round"/>
<line x1="1448.5" y1="1833.6" x2="1448.5" y2="1841.1" stroke-width="5.8" stroke-linecap="round"/>
<line x1="1345.5" y1="1545.1" x2="1454.9" y2="1545.1" stroke-width="3.6" stroke-linecap="butt"/>
<line x1="1349.8" y1="1685.9" x2="1448.8" y2="1670.7" stroke-width="3.5" stroke-linecap="round"/>
<line x1="1349.8" y1="1719.3" x2="1448.8" y2="1707.1" stroke-width="3.5" stroke-linecap="round"/>
<line x1="1349.8" y1="1722.3" x2="1448.8" y2="1680.7" stroke-width="3.5" stroke-linecap="round"/>
<line x1="1349.8" y1="1742.1" x2="1448.8" y2="1596.8" stroke-width="3.5" stroke-linecap="round"/>
<line x1="1349.8" y1="1754.2" x2="1448.8" y2="1697.4" stroke-width="3.5" stroke-linecap="round"/>
<line x1="1649.1" y1="1483.9" x2="1649.1" y2="1876" stroke-width="5.8" stroke-linecap="round"/>
<line x1="1639" y1="1876" x2="2035.6" y2="1876" stroke-width="5.8" stroke-linecap="round"/>
<line x1="1639" y1="1483.9" x2="1649.1" y2="1483.9" stroke-width="5.8" stroke-linecap="round"/>
<line x1="1639" y1="1562.32" x2="1649.1" y2="1562.32" stroke-width="5.8" stroke-linecap="round"/>
<line x1="1639" y1="1640.74" x2="1649.1" y2="1640.74" stroke-width="5.8" stroke-linecap="round"/>
<line x1="1639" y1="1719.16" x2="1649.1" y2="1719.16" stroke-width="5.8" stroke-linecap="round"/>
<line x1="1639" y1="1797.58" x2="1649.1" y2="1797.58" stroke-width="5.8" stroke-linecap="round"/>
<line x1="1639" y1="1876" x2="1649.1" y2="1876" stroke-width="5.8" stroke-linecap="round"/>
<line x1="1649.1" y1="1876" x2="1649.1" y2="1887.6" stroke-width="5.8" stroke-linecap="round"/>
<line x1="1726.55" y1="1876" x2="1726.55" y2="1887.6" stroke-width="5.8" stroke-linecap="round"/>
<line x1="1804" y1="1876" x2="1804" y2="1887.6" stroke-width="5.8" stroke-linecap="round"/>
<line x1="1881.45" y1="1876" x2="1881.45" y2="1887.6" stroke-width="5.8" stroke-linecap="round"/>
<line x1="1958.9" y1="1876" x2="1958.9" y2="1887.6" stroke-width="5.8" stroke-linecap="round"/>
<line x1="2036.35" y1="1876" x2="2036.35" y2="1887.6" stroke-width="5.8" stroke-linecap="round"/>
<line x1="1713.7" y1="1755.72" x2="1758.75" y2="1755.72" stroke-width="3.7" stroke-linecap="round"/>
<line x1="1713.7" y1="1748.22" x2="1713.7" y2="1763.22" stroke-width="3.7" stroke-linecap="round"/>
<line x1="1758.75" y1="1748.22" x2="1758.75" y2="1763.22" stroke-width="3.7" stroke-linecap="round"/>
<line x1="1758.75" y1="1690.88" x2="1801.98" y2="1690.88" stroke-width="3.7" stroke-linecap="round"/>
<line x1="1758.75" y1="1683.38" x2="1758.75" y2="1698.38" stroke-width="3.7" stroke-linecap="round"/>
<line x1="1801.98" y1="1683.38" x2="1801.98" y2="1698.38" stroke-width="3.7" stroke-linecap="round"/>
<line x1="1843.38" y1="1688.75" x2="1956.01" y2="1688.75" stroke-width="3.7" stroke-linecap="round"/>
<line x1="1843.38" y1="1681.25" x2="1843.38" y2="1696.25" stroke-width="3.7" stroke-linecap="round"/>
<line x1="1956.01" y1="1681.25" x2="1956.01" y2="1696.25" stroke-width="3.7" stroke-linecap="round"/>
<line x1="1899.7" y1="1659.83" x2="1899.7" y2="1716.15" stroke-width="3.7" stroke-linecap="round"/>
<line x1="1892.2" y1="1659.83" x2="1907.2" y2="1659.83" stroke-width="3.7" stroke-linecap="round"/>
<line x1="1892.2" y1="1716.15" x2="1907.2" y2="1716.15" stroke-width="3.7" stroke-linecap="round"/>
<line x1="1915.53" y1="1607.47" x2="1952.05" y2="1607.47" stroke-width="3.7" stroke-linecap="round"/>
<line x1="1915.53" y1="1599.97" x2="1915.53" y2="1614.97" stroke-width="3.7" stroke-linecap="round"/>
<line x1="1952.05" y1="1599.97" x2="1952.05" y2="1614.97" stroke-width="3.7" stroke-linecap="round"/>
<line x1="1933.18" y1="1562.42" x2="1933.18" y2="1652.83" stroke-width="3.7" stroke-linecap="round"/>
<line x1="1925.68" y1="1562.42" x2="1940.68" y2="1562.42" stroke-width="3.7" stroke-linecap="round"/>
<line x1="1925.68" y1="1652.83" x2="1940.68" y2="1652.83" stroke-width="3.7" stroke-linecap="round"/>
<line x1="1929.22" y1="1684.19" x2="1974.89" y2="1684.19" stroke-width="3.7" stroke-linecap="round"/>
<line x1="1929.22" y1="1676.69" x2="1929.22" y2="1691.69" stroke-width="3.7" stroke-linecap="round"/>
<line x1="1974.89" y1="1676.69" x2="1974.89" y2="1691.69" stroke-width="3.7" stroke-linecap="round"/>
<line x1="1952.05" y1="1658.92" x2="1952.05" y2="1709.15" stroke-width="3.7" stroke-linecap="round"/>
<line x1="1944.55" y1="1658.92" x2="1959.55" y2="1658.92" stroke-width="3.7" stroke-linecap="round"/>
<line x1="1944.55" y1="1709.15" x2="1959.55" y2="1709.15" stroke-width="3.7" stroke-linecap="round"/>
<line x1="1946.88" y1="1752.68" x2="1973.36" y2="1752.68" stroke-width="3.7" stroke-linecap="round"/>
<line x1="1946.88" y1="1745.18" x2="1946.88" y2="1760.18" stroke-width="3.7" stroke-linecap="round"/>
<line x1="1973.36" y1="1745.18" x2="1973.36" y2="1760.18" stroke-width="3.7" stroke-linecap="round"/>
<line x1="1960.27" y1="1723.76" x2="1960.27" y2="1780.99" stroke-width="3.7" stroke-linecap="round"/>
<line x1="1952.77" y1="1723.76" x2="1967.77" y2="1723.76" stroke-width="3.7" stroke-linecap="round"/>
<line x1="1952.77" y1="1780.99" x2="1967.77" y2="1780.99" stroke-width="3.7" stroke-linecap="round"/>
</g>
<g stroke="#000" stroke-width="0.5" stroke-linejoin="round">
<text x="0.21" y="30.7" font-size="35.03" textLength="982.3" lengthAdjust="spacingAndGlyphs" stroke-width="0.7">HSyn Signal Is Greater During Outcomes Following Risky Choice</text>
<text x="1113.41" y="30.3" font-size="35.03" textLength="973.5" lengthAdjust="spacingAndGlyphs" stroke-width="0.7">D2R+ Signal Is Greater During Outcomes Following Safe Choice</text>
<text x="11.42" y="705" font-size="35.03" textLength="1001.8" lengthAdjust="spacingAndGlyphs" stroke-width="0.7">HSyn Decision Period Signal Is Greater Following Risky Outcomes</text>
<text x="1090.72" y="705" font-size="35.03" textLength="1005.1" lengthAdjust="spacingAndGlyphs" stroke-width="0.7">D2R+ Decision Period Signal Is Greater Following Risky Outcomes</text>
<text x="49.56" y="1374.8" font-size="35.03" textLength="911.84" lengthAdjust="spacingAndGlyphs" stroke-width="0.7">HSyn Decision Period Signal Is Greater Before Risky Choices</text>
<text x="1140.17" y="1374.8" font-size="35.03" textLength="902.03" lengthAdjust="spacingAndGlyphs" stroke-width="0.7">D2R+ Decision Period Signal Is Greater Before Safe Choices</text>
<text x="32.63" y="98.9" font-size="43.9" textLength="24.54" lengthAdjust="spacingAndGlyphs" stroke-width="0.9">A</text>
<text x="416.65" y="98.7" font-size="43.9" textLength="23.18" lengthAdjust="spacingAndGlyphs" stroke-width="0.9">B</text>
<text x="1168.2" y="98.9" font-size="43.9" textLength="25.66" lengthAdjust="spacingAndGlyphs" stroke-width="0.9">C</text>
<text x="1520.58" y="98.9" font-size="43.9" textLength="30.12" lengthAdjust="spacingAndGlyphs" stroke-width="0.9">D</text>
<text x="32.33" y="760.2" font-size="43.9" textLength="20.92" lengthAdjust="spacingAndGlyphs" stroke-width="0.9">E</text>
<text x="417.98" y="760.2" font-size="43.9" textLength="18.75" lengthAdjust="spacingAndGlyphs" stroke-width="0.9">F</text>
<text x="1167.57" y="760.2" font-size="43.9" textLength="29.91" lengthAdjust="spacingAndGlyphs" stroke-width="0.9">G</text>
<text x="1521.04" y="760.2" font-size="43.9" textLength="28.7" lengthAdjust="spacingAndGlyphs" stroke-width="0.9">H</text>
<text x="31.04" y="1467.2" font-size="43.9" textLength="11.92" lengthAdjust="spacingAndGlyphs" stroke-width="0.9">I</text>
<text x="416.48" y="1467" font-size="43.9" textLength="16.58" lengthAdjust="spacingAndGlyphs" stroke-width="0.9">J</text>
<text x="1168.48" y="1467.1" font-size="43.9" textLength="23.72" lengthAdjust="spacingAndGlyphs" stroke-width="0.9">K</text>
<text x="1521.55" y="1467.1" font-size="43.9" textLength="20.69" lengthAdjust="spacingAndGlyphs" stroke-width="0.9">L</text>
<text x="82.53" y="174.9" font-size="26.8" textLength="35.05" lengthAdjust="spacingAndGlyphs">2.0</text>
<text x="85.23" y="254.1" font-size="26.8" textLength="32.35" lengthAdjust="spacingAndGlyphs">1.5</text>
<text x="85.23" y="333.2" font-size="26.8" textLength="32.28" lengthAdjust="spacingAndGlyphs">1.0</text>
<text x="82.82" y="412.4" font-size="26.8" textLength="34.83" lengthAdjust="spacingAndGlyphs">0.5</text>
<text x="82.82" y="491.6" font-size="26.8" textLength="34.75" lengthAdjust="spacingAndGlyphs">0.0</text>
<text transform="translate(75.2 424.8) rotate(-90)" x="-2.21" font-size="29.8" textLength="199.5" lengthAdjust="spacingAndGlyphs">Normalized dF/F</text>
<text x="229.81" y="210.9" font-size="28.2" stroke-width="0.3">*</text>
<text x="243.61" y="210.9" font-size="28.2" stroke-width="0.3">*</text>
<text transform="translate(156.58 548.42) rotate(-45)" x="-1.17" font-size="27" textLength="53.12" lengthAdjust="spacingAndGlyphs">Safe</text>
<text transform="translate(257.65 552.45) rotate(-45)" x="-1.96" font-size="27" textLength="58.51" lengthAdjust="spacingAndGlyphs">Risky</text>
<text x="533.89" y="117.55" font-size="26" textLength="15.48" lengthAdjust="spacingAndGlyphs">5</text>
<text x="534.4" y="199.36" font-size="26" textLength="14.57" lengthAdjust="spacingAndGlyphs">4</text>
<text x="533.94" y="281.17" font-size="26" textLength="15.48" lengthAdjust="spacingAndGlyphs">3</text>
<text x="533.54" y="362.98" font-size="26" textLength="16.11" lengthAdjust="spacingAndGlyphs">2</text>
<text x="538.2" y="444.79" font-size="26" textLength="10.96" lengthAdjust="spacingAndGlyphs">1</text>
<text x="533.92" y="526.6" font-size="26" textLength="15.36" lengthAdjust="spacingAndGlyphs">0</text>
<text x="545.84" y="561.2" font-size="26" textLength="34.33" lengthAdjust="spacingAndGlyphs">0.0</text>
<text x="647.98" y="561.2" font-size="26" textLength="34.63" lengthAdjust="spacingAndGlyphs">0.2</text>
<text x="750.14" y="561.2" font-size="26" textLength="34.08" lengthAdjust="spacingAndGlyphs">0.4</text>
<text x="852.28" y="561.2" font-size="26" textLength="34.46" lengthAdjust="spacingAndGlyphs">0.6</text>
<text x="954.43" y="561.2" font-size="26" textLength="34.44" lengthAdjust="spacingAndGlyphs">0.8</text>
<text x="640.92" y="607.6" font-size="27.91" textLength="298.74" lengthAdjust="spacingAndGlyphs">Proportion Risky Choices</text>
<text transform="translate(472.5 441) rotate(-90)" x="-1.64" font-size="27.91" textLength="257.64" lengthAdjust="spacingAndGlyphs">(dF/F Risky Reward) /</text>
<text transform="translate(513.5 431) rotate(-90)" x="-1.69" font-size="27.91" textLength="253.87" lengthAdjust="spacingAndGlyphs">(dF/F Safe Reweard)</text>
<text x="876.34" y="130.2" font-size="27.33" textLength="15.54" lengthAdjust="spacingAndGlyphs">R</text>
<text x="891.52" y="120.24" font-size="16.4" textLength="8.28" lengthAdjust="spacingAndGlyphs">2</text>
<text x="905.38" y="130.2" font-size="27.33" textLength="18.71" lengthAdjust="spacingAndGlyphs">=</text>
<text x="929.29" y="130.2" font-size="27.33" textLength="49.9" lengthAdjust="spacingAndGlyphs">0.12</text>
<text x="876.22" y="164.2" font-size="27.33" textLength="16.2" lengthAdjust="spacingAndGlyphs">p</text>
<text x="898.6" y="164.2" font-size="27.33" textLength="17.91" lengthAdjust="spacingAndGlyphs">=</text>
<text x="921.48" y="164.2" font-size="27.33" textLength="50.63" lengthAdjust="spacingAndGlyphs">0.40</text>
<circle cx="609.25" cy="395.5" r="6"/>
<circle cx="639" cy="360.75" r="6"/>
<circle cx="644.75" cy="400.75" r="6"/>
<circle cx="704.5" cy="395.5" r="6"/>
<circle cx="715" cy="350" r="6"/>
<circle cx="722.5" cy="395.5" r="6"/>
<circle cx="782" cy="395" r="6"/>
<circle cx="852" cy="413" r="6"/>
<text x="1216.86" y="169" font-size="22.3" textLength="28.64" lengthAdjust="spacingAndGlyphs">2.0</text>
<text x="1218.94" y="249.78" font-size="22.3" textLength="26.56" lengthAdjust="spacingAndGlyphs">1.5</text>
<text x="1218.95" y="330.56" font-size="22.3" textLength="26.5" lengthAdjust="spacingAndGlyphs">1.0</text>
<text x="1217.1" y="411.34" font-size="22.3" textLength="28.46" lengthAdjust="spacingAndGlyphs">0.5</text>
<text x="1217.1" y="492.12" font-size="22.3" textLength="28.4" lengthAdjust="spacingAndGlyphs">0.0</text>
<text transform="translate(1202.1 423.6) rotate(-90)" x="-2.21" font-size="28.92" textLength="198.88" lengthAdjust="spacingAndGlyphs">Normalized dF/F</text>
<text x="1359.38" y="172.29" font-size="26.3" stroke-width="0.3">*</text>
<text transform="translate(1284.51 550.19) rotate(-45)" x="-0.95" font-size="22" textLength="42.87" lengthAdjust="spacingAndGlyphs">Safe</text>
<text transform="translate(1387.55 555.85) rotate(-45)" x="-1.7" font-size="22" textLength="50.74" lengthAdjust="spacingAndGlyphs">Risky</text>
<text x="1583.91" y="111.35" font-size="25.5" textLength="15.13" lengthAdjust="spacingAndGlyphs">5</text>
<text x="1584.41" y="193.44" font-size="25.5" textLength="14.24" lengthAdjust="spacingAndGlyphs">4</text>
<text x="1583.96" y="275.53" font-size="25.5" textLength="15.13" lengthAdjust="spacingAndGlyphs">3</text>
<text x="1583.58" y="357.62" font-size="25.5" textLength="15.75" lengthAdjust="spacingAndGlyphs">2</text>
<text x="1588.02" y="439.71" font-size="25.5" textLength="10.84" lengthAdjust="spacingAndGlyphs">1</text>
<text x="1583.95" y="521.8" font-size="25.5" textLength="15.01" lengthAdjust="spacingAndGlyphs">0</text>
<text x="1603.01" y="559.2" font-size="26" textLength="33.48" lengthAdjust="spacingAndGlyphs">0.0</text>
<text x="1683.55" y="559.2" font-size="26" textLength="33.77" lengthAdjust="spacingAndGlyphs">0.2</text>
<text x="1768.47" y="555.6" font-size="26" textLength="33.23" lengthAdjust="spacingAndGlyphs">0.4</text>
<text x="1848.71" y="559.2" font-size="26" textLength="33.61" lengthAdjust="spacingAndGlyphs">0.6</text>
<text x="1936.56" y="559.2" font-size="26" textLength="33.59" lengthAdjust="spacingAndGlyphs">0.8</text>
<text x="2013.16" y="559.2" font-size="26" textLength="32.71" lengthAdjust="spacingAndGlyphs">1.0</text>
<text x="1686.6" y="612.8" font-size="28.34" textLength="300.66" lengthAdjust="spacingAndGlyphs">Proportion Risky Choices</text>
<text transform="translate(1526 423.75) rotate(-90)" x="-1.7" font-size="27.91" textLength="266.7" lengthAdjust="spacingAndGlyphs">(dF/F Risky Reward) /</text>
<text transform="translate(1567.5 413.75) rotate(-90)" x="-1.7" font-size="27.91" textLength="255.9" lengthAdjust="spacingAndGlyphs">(dF/F Safe Reweard)</text>
<text x="1670.31" y="162.5" font-size="27.33" textLength="14.87" lengthAdjust="spacingAndGlyphs">R</text>
<text x="1684.84" y="152.54" font-size="16.4" textLength="7.93" lengthAdjust="spacingAndGlyphs">2</text>
<text x="1698.1" y="162.5" font-size="27.33" textLength="17.91" lengthAdjust="spacingAndGlyphs">=</text>
<text x="1720.99" y="162.5" font-size="27.33" textLength="47.71" lengthAdjust="spacingAndGlyphs">0.11</text>
<text x="1670.22" y="197" font-size="27.33" textLength="15.33" lengthAdjust="spacingAndGlyphs">p</text>
<text x="1691.4" y="197" font-size="27.33" textLength="16.95" lengthAdjust="spacingAndGlyphs">=</text>
<text x="1713.05" y="197" font-size="27.33" textLength="48.16" lengthAdjust="spacingAndGlyphs">0.51</text>
<circle cx="1710.5" cy="423" r="6.1"/>
<circle cx="1785.5" cy="454.25" r="6.1"/>
<circle cx="1886.25" cy="298" r="6.1"/>
<circle cx="1921.75" cy="413.75" r="6.1"/>
<circle cx="1946.25" cy="413.75" r="6.1"/>
<circle cx="1951.25" cy="391.25" r="6.1"/>
<text x="77.69" y="852.8" font-size="26.8" textLength="33" lengthAdjust="spacingAndGlyphs">1.4</text>
<text x="77.66" y="915.2" font-size="26.8" textLength="33.55" lengthAdjust="spacingAndGlyphs">1.2</text>
<text x="77.68" y="977.6" font-size="26.8" textLength="33.26" lengthAdjust="spacingAndGlyphs">1.0</text>
<text x="76.53" y="1040" font-size="26.8" textLength="34.55" lengthAdjust="spacingAndGlyphs">0.8</text>
<text x="76.53" y="1102.4" font-size="26.8" textLength="34.56" lengthAdjust="spacingAndGlyphs">0.6</text>
<text x="76.54" y="1164.35" font-size="26.8" textLength="34.18" lengthAdjust="spacingAndGlyphs">0.4</text>
<text transform="translate(64.9 1091.25) rotate(-90)" x="-2.21" font-size="28.92" textLength="199.44" lengthAdjust="spacingAndGlyphs">Normalized dF/F</text>
<text x="214.05" y="898.21" font-size="28.5" stroke-width="0.3">*</text>
<text x="226.25" y="898.21" font-size="28.5" stroke-width="0.3">*</text>
<text x="238.55" y="898.21" font-size="28.5" stroke-width="0.3">*</text>
<text transform="translate(132.02 1228.28) rotate(-45)" x="-2.1" font-size="27" textLength="62.65" lengthAdjust="spacingAndGlyphs">Risky</text>
<text transform="translate(245.44 1222.16) rotate(-45)" x="-1.15" font-size="27" textLength="52.28" lengthAdjust="spacingAndGlyphs">Safe</text>
<text x="497.92" y="783.3" font-size="26.2" textLength="35.35" lengthAdjust="spacingAndGlyphs">2.5</text>
<text x="497.92" y="928.2" font-size="26.2" textLength="35.27" lengthAdjust="spacingAndGlyphs">2.0</text>
<text x="500.93" y="1073.1" font-size="26.2" textLength="32.24" lengthAdjust="spacingAndGlyphs">1.5</text>
<text x="500.94" y="1218" font-size="26.2" textLength="32.17" lengthAdjust="spacingAndGlyphs">1.0</text>
<text x="539.07" y="1254.6" font-size="26.2" textLength="33.27" lengthAdjust="spacingAndGlyphs">0.0</text>
<text x="647.06" y="1254.6" font-size="26.2" textLength="33.56" lengthAdjust="spacingAndGlyphs">0.2</text>
<text x="755.07" y="1254.6" font-size="26.2" textLength="33.02" lengthAdjust="spacingAndGlyphs">0.4</text>
<text x="863.06" y="1254.6" font-size="26.2" textLength="33.39" lengthAdjust="spacingAndGlyphs">0.6</text>
<text x="971.06" y="1254.6" font-size="26.2" textLength="33.38" lengthAdjust="spacingAndGlyphs">0.8</text>
<text x="624.31" y="1291.7" font-size="27.91" textLength="299.55" lengthAdjust="spacingAndGlyphs">Proportion Risky Choices</text>
<text transform="translate(446.8 1134.2) rotate(-90)" x="-1.72" font-size="26.89" textLength="301.52" lengthAdjust="spacingAndGlyphs">(dF/F at nsp after risky) /</text>
<text transform="translate(486.2 1128) rotate(-90)" x="-1.73" font-size="26.89" textLength="283.46" lengthAdjust="spacingAndGlyphs">(dF/F at nsp after safe)</text>
<text x="860.23" y="814" font-size="27.33" textLength="15.55" lengthAdjust="spacingAndGlyphs">R</text>
<text x="875.44" y="804.04" font-size="16.4" textLength="8.29" lengthAdjust="spacingAndGlyphs">2</text>
<text x="889.3" y="814" font-size="27.33" textLength="18.73" lengthAdjust="spacingAndGlyphs">=</text>
<text x="913.25" y="814" font-size="27.33" textLength="49.91" lengthAdjust="spacingAndGlyphs">0.01</text>
<text x="860.09" y="848.7" font-size="27.33" textLength="16.44" lengthAdjust="spacingAndGlyphs">p</text>
<text x="882.81" y="848.7" font-size="27.33" textLength="18.18" lengthAdjust="spacingAndGlyphs">=</text>
<text x="906.03" y="848.7" font-size="27.33" textLength="51.52" lengthAdjust="spacingAndGlyphs">0.78</text>
<circle cx="604.78" cy="1139.7" r="6.4"/>
<circle cx="636.74" cy="1071.2" r="6.4"/>
<circle cx="642.22" cy="1083.99" r="6.4"/>
<circle cx="705.24" cy="1077.9" r="6.4"/>
<circle cx="715.89" cy="866.33" r="6.4"/>
<circle cx="723.5" cy="984.44" r="6.4"/>
<circle cx="786.82" cy="923.26" r="6.4"/>
<circle cx="860.79" cy="1169.83" r="6.4"/>
<text x="1224.84" y="869.6" font-size="25.5" textLength="30.36" lengthAdjust="spacingAndGlyphs">1.2</text>
<text x="1224.84" y="934.22" font-size="25.5" textLength="30.33" lengthAdjust="spacingAndGlyphs">1.1</text>
<text x="1224.85" y="998.84" font-size="25.5" textLength="30.09" lengthAdjust="spacingAndGlyphs">1.0</text>
<text x="1222.17" y="1063.46" font-size="25.5" textLength="33.06" lengthAdjust="spacingAndGlyphs">0.9</text>
<text x="1222.17" y="1128.08" font-size="25.5" textLength="32.96" lengthAdjust="spacingAndGlyphs">0.8</text>
<text x="1222.17" y="1192.7" font-size="25.5" textLength="33.13" lengthAdjust="spacingAndGlyphs">0.7</text>
<text transform="translate(1213 1117.6) rotate(-90)" x="-2.23" font-size="28.92" textLength="200.61" lengthAdjust="spacingAndGlyphs">Normalized dF/F</text>
<text x="1359.3" y="892.71" font-size="27.2" stroke-width="0.3">*</text>
<text x="1371.4" y="892.71" font-size="27.2" stroke-width="0.3">*</text>
<text x="1383.8" y="892.71" font-size="27.2" stroke-width="0.3">*</text>
<text transform="translate(1280.17 1259.73) rotate(-45)" x="-2.12" font-size="27" textLength="63.17" lengthAdjust="spacingAndGlyphs">Risky</text>
<text transform="translate(1396.68 1253.02) rotate(-45)" x="-1.19" font-size="27" textLength="53.85" lengthAdjust="spacingAndGlyphs">Safe</text>
<text x="1589.82" y="807.9" font-size="25.8" textLength="34.26" lengthAdjust="spacingAndGlyphs">1.6</text>
<text x="1589.84" y="936.53" font-size="25.8" textLength="33.87" lengthAdjust="spacingAndGlyphs">1.4</text>
<text x="1589.81" y="1065.16" font-size="25.8" textLength="34.43" lengthAdjust="spacingAndGlyphs">1.2</text>
<text x="1589.83" y="1193.79" font-size="25.8" textLength="34.13" lengthAdjust="spacingAndGlyphs">1.0</text>
<text x="1623.4" y="1224.2" font-size="25.8" textLength="32" lengthAdjust="spacingAndGlyphs">0.0</text>
<text x="1701.02" y="1224.2" font-size="25.8" textLength="32.27" lengthAdjust="spacingAndGlyphs">0.2</text>
<text x="1779.27" y="1224.2" font-size="25.8" textLength="31.76" lengthAdjust="spacingAndGlyphs">0.4</text>
<text x="1856.99" y="1224.2" font-size="25.8" textLength="32.12" lengthAdjust="spacingAndGlyphs">0.6</text>
<text x="1934.22" y="1224.2" font-size="25.8" textLength="32.11" lengthAdjust="spacingAndGlyphs">0.8</text>
<text x="2014.09" y="1224.2" font-size="25.8" textLength="30.31" lengthAdjust="spacingAndGlyphs">1.0</text>
<text x="1687.96" y="1254.9" font-size="25.15" textLength="278.73" lengthAdjust="spacingAndGlyphs">Proportion Risky Choices</text>
<text transform="translate(1533.5 1120.5) rotate(-90)" x="-1.61" font-size="25.44" textLength="283.21" lengthAdjust="spacingAndGlyphs">(dF/F at nsp after risky) /</text>
<text transform="translate(1570.5 1106.8) rotate(-90)" x="-1.62" font-size="25.44" textLength="265.03" lengthAdjust="spacingAndGlyphs">(dF/F at nsp after safe)</text>
<text x="1916.82" y="815.5" font-size="27.33" textLength="15.63" lengthAdjust="spacingAndGlyphs">R</text>
<text x="1932.1" y="805.54" font-size="16.4" textLength="8.33" lengthAdjust="spacingAndGlyphs">2</text>
<text x="1946.04" y="815.5" font-size="27.33" textLength="18.83" lengthAdjust="spacingAndGlyphs">=</text>
<text x="1970.1" y="815.5" font-size="27.33" textLength="50.2" lengthAdjust="spacingAndGlyphs">0.97</text>
<text x="1916.72" y="851.1" font-size="27.33" textLength="16.2" lengthAdjust="spacingAndGlyphs">p</text>
<text x="1939.1" y="851.1" font-size="27.33" textLength="17.91" lengthAdjust="spacingAndGlyphs">=</text>
<text x="1961.96" y="851.1" font-size="27.33" textLength="81.1" lengthAdjust="spacingAndGlyphs">0.0003</text>
<circle cx="1729.83" cy="947" r="6.4"/>
<circle cx="1799.85" cy="973.49" r="6.4"/>
<circle cx="1893.61" cy="1074.86" r="6.4"/>
<circle cx="1927.09" cy="1101.64" r="6.4"/>
<circle cx="1949.01" cy="1137.26" r="6.4"/>
<circle cx="1954.19" cy="1147.91" r="6.4"/>
<text x="113.05" y="1582" font-size="26" textLength="31.92" lengthAdjust="spacingAndGlyphs">1.4</text>
<text x="113.02" y="1644.7" font-size="26" textLength="32.45" lengthAdjust="spacingAndGlyphs">1.2</text>
<text x="113.04" y="1707.4" font-size="26" textLength="32.17" lengthAdjust="spacingAndGlyphs">1.0</text>
<text x="111.86" y="1770.1" font-size="26" textLength="33.49" lengthAdjust="spacingAndGlyphs">0.8</text>
<text x="111.86" y="1832.8" font-size="26" textLength="33.5" lengthAdjust="spacingAndGlyphs">0.6</text>
<text transform="translate(97.8 1797.9) rotate(-90)" x="-2.22" font-size="28.92" textLength="200.21" lengthAdjust="spacingAndGlyphs">Normalized dF/F</text>
<text x="260.4" y="1599.71" font-size="27.2" stroke-width="0.3">*</text>
<text transform="translate(168.57 1927.73) rotate(-45)" x="-2.12" font-size="27" textLength="63.17" lengthAdjust="spacingAndGlyphs">Risky</text>
<text transform="translate(280.64 1921.86) rotate(-45)" x="-1.15" font-size="27" textLength="52.28" lengthAdjust="spacingAndGlyphs">Safe</text>
<text x="465.51" y="1531.8" font-size="26" textLength="32.62" lengthAdjust="spacingAndGlyphs">1.6</text>
<text x="465.53" y="1622.7" font-size="26" textLength="32.25" lengthAdjust="spacingAndGlyphs">1.4</text>
<text x="465.5" y="1713.6" font-size="26" textLength="32.78" lengthAdjust="spacingAndGlyphs">1.2</text>
<text x="465.52" y="1804.5" font-size="26" textLength="32.49" lengthAdjust="spacingAndGlyphs">1.0</text>
<text x="464.35" y="1895.4" font-size="26" textLength="33.81" lengthAdjust="spacingAndGlyphs">0.8</text>
<text x="496.37" y="1955.4" font-size="26" textLength="33.06" lengthAdjust="spacingAndGlyphs">0.0</text>
<text x="604.21" y="1955.4" font-size="26" textLength="33.34" lengthAdjust="spacingAndGlyphs">0.2</text>
<text x="712.08" y="1955.4" font-size="26" textLength="32.81" lengthAdjust="spacingAndGlyphs">0.4</text>
<text x="819.92" y="1955.4" font-size="26" textLength="33.18" lengthAdjust="spacingAndGlyphs">0.6</text>
<text x="927.77" y="1955.4" font-size="26" textLength="33.17" lengthAdjust="spacingAndGlyphs">0.8</text>
<text x="582.81" y="1992.5" font-size="27.91" textLength="299.76" lengthAdjust="spacingAndGlyphs">Proportion Risky Choices</text>
<text transform="translate(415.3 1852.6) rotate(-90)" x="-1.75" font-size="26.89" textLength="331.35" lengthAdjust="spacingAndGlyphs">(dF/F at nsp before risky) /</text>
<text transform="translate(452.6 1849.6) rotate(-90)" x="-1.74" font-size="26.89" textLength="308.88" lengthAdjust="spacingAndGlyphs">(dF/F at nsp before safe)</text>
<text x="797.61" y="1532" font-size="27.33" textLength="15.79" lengthAdjust="spacingAndGlyphs">R</text>
<text x="813.04" y="1522.04" font-size="16.4" textLength="8.42" lengthAdjust="spacingAndGlyphs">2</text>
<text x="827.11" y="1532" font-size="27.33" textLength="19.01" lengthAdjust="spacingAndGlyphs">=</text>
<text x="851.41" y="1532" font-size="27.33" textLength="50.7" lengthAdjust="spacingAndGlyphs">0.17</text>
<text x="797.56" y="1566.1" font-size="27.33" textLength="15.9" lengthAdjust="spacingAndGlyphs">p</text>
<text x="819.53" y="1566.1" font-size="27.33" textLength="17.58" lengthAdjust="spacingAndGlyphs">=</text>
<text x="841.99" y="1566.1" font-size="27.33" textLength="49.97" lengthAdjust="spacingAndGlyphs">0.31</text>
<circle cx="562.86" cy="1766.99" r="6.4"/>
<circle cx="593.91" cy="1572.16" r="6.4"/>
<circle cx="599.39" cy="1660.44" r="6.4"/>
<circle cx="663.32" cy="1665.01" r="6.4"/>
<circle cx="673.97" cy="1700.93" r="6.4"/>
<circle cx="681.58" cy="1540.2" r="6.4"/>
<circle cx="744.9" cy="1793.17" r="6.4"/>
<circle cx="818.57" cy="1788.6" r="6.4"/>
<text x="1243.47" y="1537.5" font-size="25" textLength="29.77" lengthAdjust="spacingAndGlyphs">1.3</text>
<text x="1243.46" y="1596.75" font-size="25" textLength="29.92" lengthAdjust="spacingAndGlyphs">1.2</text>
<text x="1243.46" y="1656" font-size="25" textLength="29.89" lengthAdjust="spacingAndGlyphs">1.1</text>
<text x="1243.47" y="1715.25" font-size="25" textLength="29.66" lengthAdjust="spacingAndGlyphs">1.0</text>
<text x="1240.99" y="1774.5" font-size="25" textLength="32.42" lengthAdjust="spacingAndGlyphs">0.9</text>
<text x="1240.99" y="1833.75" font-size="25" textLength="32.32" lengthAdjust="spacingAndGlyphs">0.8</text>
<text transform="translate(1225 1786) rotate(-90)" x="-2.21" font-size="28.92" textLength="198.99" lengthAdjust="spacingAndGlyphs">Normalized dF/F</text>
<text transform="translate(1397.1 1526.8) rotate(90)" x="-8.77" y="16.5" font-size="35" font-family='"Liberation Serif", serif' stroke-width="0.2">*</text>
<text transform="translate(1320.56 1902.54) rotate(-45)" x="-1.93" font-size="23.5" textLength="57.47" lengthAdjust="spacingAndGlyphs">Risky</text>
<text transform="translate(1424.59 1892.11) rotate(-45)" x="-1.02" font-size="23.5" textLength="46.01" lengthAdjust="spacingAndGlyphs">Safe</text>
<text x="1590.6" y="1493.3" font-size="25.8" textLength="32.84" lengthAdjust="spacingAndGlyphs">1.6</text>
<text x="1590.62" y="1571.72" font-size="25.8" textLength="32.46" lengthAdjust="spacingAndGlyphs">1.4</text>
<text x="1590.59" y="1650.14" font-size="25.8" textLength="33" lengthAdjust="spacingAndGlyphs">1.2</text>
<text x="1590.61" y="1728.56" font-size="25.8" textLength="32.71" lengthAdjust="spacingAndGlyphs">1.0</text>
<text x="1589.44" y="1806.98" font-size="25.8" textLength="34.02" lengthAdjust="spacingAndGlyphs">0.8</text>
<text x="1589.44" y="1885.4" font-size="25.8" textLength="34.03" lengthAdjust="spacingAndGlyphs">0.6</text>
<text x="1630.16" y="1919.6" font-size="25.8" textLength="33.48" lengthAdjust="spacingAndGlyphs">0.0</text>
<text x="1706.3" y="1919.6" font-size="25.8" textLength="33.77" lengthAdjust="spacingAndGlyphs">0.2</text>
<text x="1783.47" y="1919.6" font-size="25.8" textLength="33.23" lengthAdjust="spacingAndGlyphs">0.4</text>
<text x="1867.81" y="1919.6" font-size="25.8" textLength="33.61" lengthAdjust="spacingAndGlyphs">0.6</text>
<text x="1944.76" y="1919.6" font-size="25.8" textLength="33.59" lengthAdjust="spacingAndGlyphs">0.8</text>
<text x="2013.6" y="1919.6" font-size="25.8" textLength="33.8" lengthAdjust="spacingAndGlyphs">1.0</text>
<text x="1674.36" y="1957.3" font-size="26.89" textLength="292.38" lengthAdjust="spacingAndGlyphs">Proportion Risky Choices</text>
<text transform="translate(1544 1845.4) rotate(-90)" x="-1.72" font-size="25.44" textLength="320.72" lengthAdjust="spacingAndGlyphs">(dF/F at nsp before safe) /</text>
<text transform="translate(1578.3 1859.1) rotate(-90)" x="-1.97" font-size="28.05" textLength="354.94" lengthAdjust="spacingAndGlyphs">(dF/F at nsp before risky)</text>
<text x="1685.4" y="1506.1" font-size="27.33" textLength="15.88" lengthAdjust="spacingAndGlyphs">R</text>
<text x="1700.92" y="1496.14" font-size="16.4" textLength="8.47" lengthAdjust="spacingAndGlyphs">2</text>
<text x="1715.08" y="1506.1" font-size="27.33" textLength="19.13" lengthAdjust="spacingAndGlyphs">=</text>
<text x="1739.52" y="1506.1" font-size="27.33" textLength="51" lengthAdjust="spacingAndGlyphs">0.12</text>
<text x="1685.29" y="1540.5" font-size="27.33" textLength="16.44" lengthAdjust="spacingAndGlyphs">p</text>
<text x="1708.01" y="1540.5" font-size="27.33" textLength="18.18" lengthAdjust="spacingAndGlyphs">=</text>
<text x="1731.23" y="1540.5" font-size="27.33" textLength="51.52" lengthAdjust="spacingAndGlyphs">0.48</text>
<circle cx="1735.92" cy="1755.72" r="6.8"/>
<circle cx="1780.06" cy="1690.88" r="6.8"/>
<circle cx="1899.7" cy="1688.75" r="6.8"/>
<circle cx="1933.18" cy="1607.47" r="6.8"/>
<circle cx="1952.05" cy="1684.19" r="6.8"/>
<circle cx="1960.27" cy="1752.68" r="6.8"/>
</g>
</svg>
</body></html>
